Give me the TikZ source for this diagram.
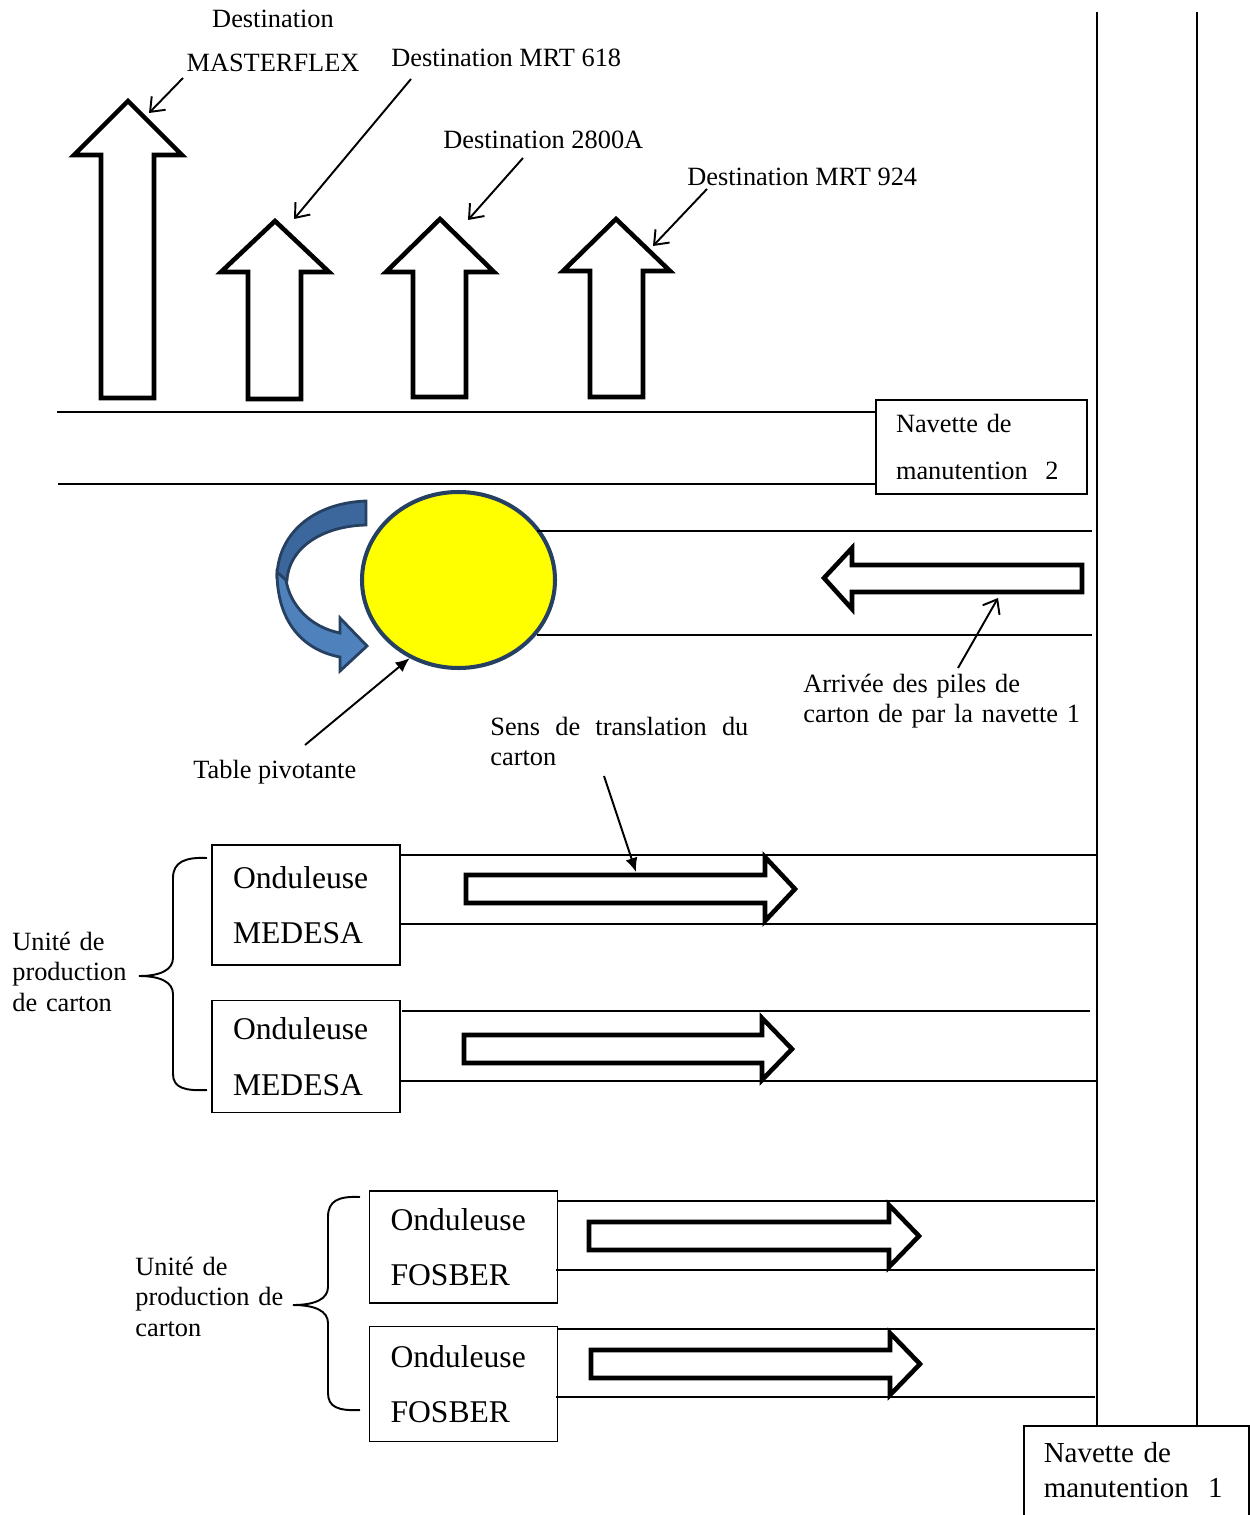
\documentclass[tikz,border=0pt]{standalone}
\usepackage{fontspec}
\setmainfont{Liberation Serif}
\usepackage{tikz}
\usetikzlibrary{shapes.geometric,arrows.meta,positioning}
\definecolor{inkblack}{RGB}{0,0,0}
\definecolor{pivotyellow}{RGB}{255,255,0}
\definecolor{pivotedge}{RGB}{38,64,98}
\definecolor{turnfront}{RGB}{79,129,189}
\definecolor{turnback}{RGB}{60,103,156}
\tikzset{
  lane/.style={line width=1.2pt,color=inkblack},
  blockarrow/.style={draw=inkblack,fill=white,line width=2.6pt,line join=miter},
  unitbrace/.style={line width=1.1pt,color=inkblack},
  ondbox/.style={rectangle,draw=inkblack,line width=0.9pt,text width=29.2mm,
    inner xsep=4.2mm,inner ysep=0pt,minimum height=22.4mm,align=left,
    font=\fontsize{18}{31.5}\selectfont},
  navbox/.style={rectangle,draw=inkblack,line width=0.9pt,inner xsep=4mm,
    inner ysep=0pt,align=left},
  lbl/.style={inner sep=0pt,align=left,font=\fontsize{15}{17.6}\selectfont},
  callout/.style={-{Straight Barb[length=7pt,width=11pt]},line width=1.1pt},
  pointer/.style={-{Latex[length=8pt,width=7pt]},line width=1.1pt},
  pivotdisc/.style={ellipse,draw=pivotedge,fill=pivotyellow,line width=2.3pt,
    inner sep=0pt,minimum width=38.6mm,minimum height=35.2mm},
  turnpart/.style={draw=pivotedge,line width=1.6pt,line join=miter},
}

\begin{document}
\begin{tikzpicture}[x=0.2mm,y=-0.2mm]
\useasboundingbox (0,0) rectangle (1249,1515);

%% ── navettes de manutention ─────────────────────────────────────────────
\draw[lane] (1097,12) -- (1097,1425);
\draw[lane] (1197,12) -- (1197,1425);
\node[navbox,anchor=north west,text width=37mm,inner ysep=3.4mm,text depth=20mm,
      font=\fontsize{16.5}{19.8}\selectfont] (nav1) at (1023,1425)
      {Navette de\\manutention\ \ 1};
\node[navbox,text width=34.2mm,minimum height=18.8mm,
      font=\fontsize{15}{26.6}\selectfont] (nav2) at (981.5,447)
      {Navette de\\manutention\ \ 2};
\draw[lane] (57,412) -- (876,412);
\draw[lane] (58,484) -- (876,484);

%% ── destinations ────────────────────────────────────────────────────────
\draw[blockarrow] (101,398) -- (101,155) -- (74,155) -- (128,101) -- (182,155)
  -- (154,155) -- (154,398) -- cycle;
\draw[blockarrow] (248,399) -- (248,272) -- (221,272) -- (275,221) -- (329,272)
  -- (301,272) -- (301,399) -- cycle;
\draw[blockarrow] (413,397) -- (413,272) -- (386,272) -- (440,219) -- (494,272)
  -- (466,272) -- (466,397) -- cycle;
\draw[blockarrow] (590,397) -- (590,271) -- (563,271) -- (616,219) -- (670,271)
  -- (643,271) -- (643,397) -- cycle;

\node[lbl,anchor=base,align=center,text width=40mm,
      font=\fontsize{15}{25}\selectfont] (dmf) at (273,28) {Destination\\MASTERFLEX};
\node[lbl,anchor=base west] (d618) at (391,67) {Destination MRT 618};
\node[lbl,anchor=base west] (d2800) at (443,149) {Destination 2800A};
\node[lbl,anchor=base west] (d924) at (687,186) {Destination MRT 924};

\coordinate (dmfFrom) at (183,78);    \coordinate (dmfTo) at (149,113);
\coordinate (d618From) at (411,79);   \coordinate (d618To) at (294,219);
\coordinate (d2800From) at (523,158); \coordinate (d2800To) at (468,220);
\coordinate (d924From) at (707,189);  \coordinate (d924To) at (653,246);
\draw[callout] (dmfFrom) -- (dmfTo);
\draw[callout] (d618From) -- (d618To);
\draw[callout] (d2800From) -- (d2800To);
\draw[callout] (d924From) -- (d924To);

%% ── table pivotante ─────────────────────────────────────────────────────
\draw[turnpart,fill=turnback] (366,501) .. controls (312,503) and (277,535) .. (277,578)
  -- (287,580) .. controls (289,548) and (322,526) .. (366,525) -- cycle;
\draw[turnpart,fill=turnfront] (277,572) .. controls (277,622) and (303,650) .. (340,657)
  -- (340,671) -- (367,646) -- (340,618) -- (340,633)
  .. controls (310,627) and (290,605) .. (286,580) -- cycle;
\node[pivotdisc] (pivot) at (458.5,580) {};
\draw[lane] (537,531) -- (1092,531);
\draw[lane] (537,635) -- (1092,635);
\draw[blockarrow] (1082,565) -- (852,565) -- (852,548) -- (824,578) -- (852,609)
  -- (852,592) -- (1082,592) -- cycle;

\node[lbl,anchor=base west] (tbl) at (193,778) {Table pivotante};
\coordinate (tblFrom) at (305,745);
\draw[pointer] (tblFrom) -- (pivot.-122);

\node[lbl,anchor=base west,text width=70mm] (arr) at (803,692)
  {Arrivée des piles de\\carton de par la navette 1};
\coordinate (arrFrom) at (958,668); \coordinate (arrTo) at (998,598);
\draw[callout] (arrFrom) -- (arrTo);

%% ── onduleuses MEDESA ───────────────────────────────────────────────────
\node[ondbox,minimum height=24mm] (med1) at (306,905) {Onduleuse\\MEDESA};
\node[ondbox,below=6.8mm of med1] (med2) {Onduleuse\\MEDESA};
\draw[lane] (400,855) -- (1097,855);
\draw[lane] (400,924) -- (1097,924);
\draw[lane] (402,1011) -- (1090,1011);
\draw[lane] (400,1081) -- (1097,1081);
\draw[blockarrow] (466,875) -- (765,875) -- (765,857) -- (795,889) -- (765,921)
  -- (765,903) -- (466,903) -- cycle;
\draw[blockarrow] (464,1035) -- (762,1035) -- (762,1018) -- (792,1049) -- (762,1080)
  -- (762,1063) -- (464,1063) -- cycle;

\node[lbl,anchor=base west,text width=51.6mm,align=justify] (sens) at (490,735)
  {Sens de translation du carton};
\coordinate (sensFrom) at (604,776); \coordinate (sensTo) at (636,872);
\draw[pointer] (sensFrom) -- (sensTo);

\node[lbl,anchor=base west,text width=30mm] (unit1) at (12,950)
  {Unité de\\production\\de carton};
\draw[unitbrace] (207,858) .. controls (185,857) and (173,862) .. (173,878)
  -- (173,958) .. controls (173,970) and (160,976) .. (139,976)
  .. controls (160,976) and (173,982) .. (173,994)
  -- (173,1074) .. controls (173,1088) and (185,1091) .. (207,1090);

%% ── onduleuses FOSBER ───────────────────────────────────────────────────
\node[ondbox] (fos1) at (463.5,1247) {Onduleuse\\FOSBER};
\node[ondbox,below=4.4mm of fos1,minimum height=23mm] (fos2) {Onduleuse\\FOSBER};
\draw[lane] (558,1201) -- (1095,1201);
\draw[lane] (556,1270) -- (1095,1270);
\draw[lane] (558,1329) -- (1095,1329);
\draw[lane] (556,1397) -- (1095,1397);
\draw[blockarrow] (589,1222) -- (889,1222) -- (889,1205) -- (919,1236) -- (889,1267)
  -- (889,1250) -- (589,1250) -- cycle;
\draw[blockarrow] (591,1350) -- (890,1350) -- (890,1333) -- (920,1364) -- (890,1395)
  -- (890,1378) -- (591,1378) -- cycle;

\node[lbl,anchor=base west,text width=32mm] (unit2) at (135,1275)
  {Unité de\\production de\\carton};
\draw[unitbrace] (360,1197) .. controls (338,1196) and (328,1201) .. (328,1217)
  -- (328,1287) .. controls (328,1299) and (315,1305) .. (293,1305)
  .. controls (315,1305) and (328,1311) .. (328,1323)
  -- (328,1393) .. controls (328,1407) and (338,1411) .. (360,1410);

\end{tikzpicture}
\end{document}
